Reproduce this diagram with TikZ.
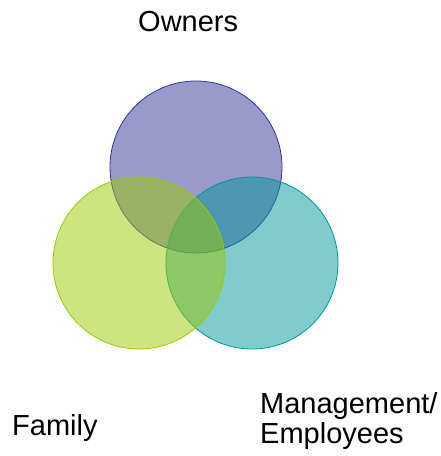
\documentclass[tikz,border=0pt]{standalone}
\usepackage{fontspec}
\setmainfont{Liberation Sans}
\usepackage{tikz}
\definecolor{ownc}{RGB}{51,51,153}
\definecolor{famc}{RGB}{155,201,1}
\definecolor{empc}{RGB}{1,151,151}
\tikzset{
  set/.style={circle, minimum size=172pt, inner sep=0pt, line width=0.8pt, fill opacity=0.5},
  lbl/.style={inner sep=0pt, anchor=base west, font=\fontsize{29}{30}\selectfont, align=left},
}

\begin{document}
\begin{tikzpicture}[x=1pt, y=-1pt]
              \useasboundingbox (0,0) rectangle (440,456);
              \node [set, draw=ownc, fill=ownc] (o) at (196,167) {};
              \node [set, draw=empc, fill=empc] (m) at (252,263) {};
              \node [set, draw=famc, fill=famc] (f) at (139,263) {};
              \node [lbl] (ol) at (138,31) {Owners};
              \node [lbl] (fl) at (12,435) {Family};
              \node [lbl] (ml) at (260,443) {Management/\\Employees};
            \end{tikzpicture}
\end{document}
